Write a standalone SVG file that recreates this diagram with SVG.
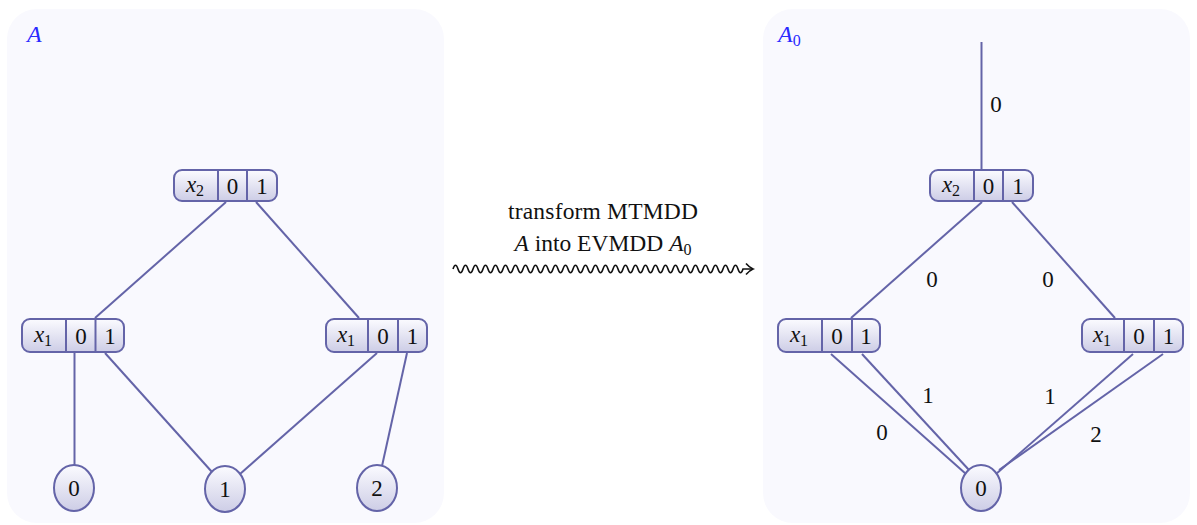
<svg xmlns="http://www.w3.org/2000/svg" width="1197" height="525" viewBox="0 0 1197 525">
  <defs>
    <linearGradient id="nodeFill" x1="0" y1="0" x2="0" y2="1">
      <stop offset="0" stop-color="#fbfbff"/>
      <stop offset="1" stop-color="#cdcde6"/>
    </linearGradient>
    <style>
      .panel { fill: #f9f9fe; stroke: none; }
      .box { fill: url(#nodeFill); stroke: #6464a8; stroke-width: 2; }
      .div { stroke: #6464a8; stroke-width: 2; }
      .edge { stroke: #6464a8; stroke-width: 2; fill: none; }
      .t { font-family: "Liberation Serif", "Times New Roman", serif; font-size: 23px; fill: #111; text-anchor: middle; }
      .big { font-size: 23.5px; }
      .it { font-style: italic; }
      .sub { font-size: 16px; }
      .title { font-family: "Liberation Serif", "Times New Roman", serif; font-size: 24px; font-style: italic; fill: #2a2aff; }
      .wave { stroke: #111; stroke-width: 1.6; fill: none; }
    </style>
  </defs>

  <!-- background panels -->
  <rect class="panel" x="7" y="9" width="437" height="514" rx="30"/>
  <rect class="panel" x="763" y="9" width="427" height="514" rx="30"/>
  <text class="title" x="27" y="42">A</text>
  <text class="title" x="778" y="42">A<tspan class="sub" font-style="normal" dy="4">0</tspan></text>

  <!-- connectors -->
  <g id="connectors">
    <!-- MTMDD A -->
    <line class="edge" x1="226" y1="202" x2="95" y2="318"/>
    <line class="edge" x1="256" y1="202" x2="359" y2="318"/>
    <line class="edge" x1="74.5" y1="353" x2="74.5" y2="466"/>
    <line class="edge" x1="105" y1="353" x2="212" y2="472"/>
    <line class="edge" x1="377" y1="353" x2="240" y2="474"/>
    <line class="edge" x1="407" y1="353" x2="382" y2="466"/>
    <!-- EVMDD A0 -->
    <line class="edge" x1="981.5" y1="42" x2="981.5" y2="170"/>
    <line class="edge" x1="982" y1="202" x2="851" y2="318"/>
    <line class="edge" x1="1012" y1="202" x2="1115" y2="318"/>
    <line class="edge" x1="831" y1="354" x2="966" y2="474"/>
    <line class="edge" x1="862" y1="354" x2="969" y2="470"/>
    <line class="edge" x1="1133" y1="354" x2="996" y2="474"/>
    <line class="edge" x1="1163" y1="354" x2="999" y2="470"/>
    <!-- edge values -->
    <text class="t" x="996" y="112">0</text>
    <text class="t" x="932" y="287">0</text>
    <text class="t" x="1048" y="287">0</text>
    <text class="t" x="928" y="403">1</text>
    <text class="t" x="1050" y="404">1</text>
    <text class="t" x="882" y="440">0</text>
    <text class="t" x="1096" y="442">2</text>
  </g>

  <!-- transformation arrow -->
  <g id="transform">
    <text class="t big" x="603" y="219" textLength="190" lengthAdjust="spacing">transform MTMDD</text>
    <text class="t big" x="603" y="251"><tspan class="it">A</tspan> into EVMDD <tspan class="it">A</tspan><tspan class="sub" dy="4">0</tspan></text>
    <path class="wave" d="M453,269 q2.5,-7.5 5,0 t5,0 t5,0 t5,0 t5,0 t5,0 t5,0 t5,0 t5,0 t5,0 t5,0 t5,0 t5,0 t5,0 t5,0 t5,0 t5,0 t5,0 t5,0 t5,0 t5,0 t5,0 t5,0 t5,0 t5,0 t5,0 t5,0 t5,0 t5,0 t5,0 t5,0 t5,0 t5,0 t5,0 t5,0 t5,0 t5,0 t5,0 t5,0 t5,0 t5,0 t5,0 t5,0 t5,0 t5,0 t5,0 t5,0 t5,0 t5,0 t5,0 t5,0 t5,0 t5,0 t5,0 t5,0 t5,0 t5,0 t5,0 l10,0"/>
    <path class="wave" d="M746,263.5 Q749.5,267.5 753,269 Q749.5,270.5 746,274.5"/>
  </g>

  <!-- MTMDD A nodes -->
  <g id="A-x2">
    <rect class="box" x="174" y="170" width="103" height="31" rx="8"/>
    <line class="div" x1="218" y1="170" x2="218" y2="201"/>
    <line class="div" x1="247" y1="170" x2="247" y2="201"/>
    <text class="t" x="195" y="192"><tspan class="it">x</tspan><tspan class="sub" dy="4">2</tspan></text>
    <text class="t" x="232.5" y="193.5">0</text>
    <text class="t" x="262" y="193.5">1</text>
  </g>
  <g id="A-x1-left">
    <rect class="box" x="22" y="319" width="102" height="33" rx="8"/>
    <line class="div" x1="66" y1="319" x2="66" y2="352"/>
    <line class="div" x1="95.5" y1="319" x2="95.5" y2="352"/>
    <text class="t" x="43" y="342"><tspan class="it">x</tspan><tspan class="sub" dy="4">1</tspan></text>
    <text class="t" x="81" y="343.5">0</text>
    <text class="t" x="110" y="343.5">1</text>
  </g>
  <g id="A-x1-right">
    <rect class="box" x="326" y="319" width="101" height="33" rx="8"/>
    <line class="div" x1="368" y1="319" x2="368" y2="352"/>
    <line class="div" x1="398" y1="319" x2="398" y2="352"/>
    <text class="t" x="346" y="342"><tspan class="it">x</tspan><tspan class="sub" dy="4">1</tspan></text>
    <text class="t" x="383" y="343.5">0</text>
    <text class="t" x="412.5" y="343.5">1</text>
  </g>
  <g id="A-leaf-0">
    <ellipse class="box" cx="74" cy="488" rx="20" ry="23"/>
    <text class="t" x="74" y="496">0</text>
  </g>
  <g id="A-leaf-1">
    <ellipse class="box" cx="225" cy="489" rx="20" ry="23"/>
    <text class="t" x="225" y="497">1</text>
  </g>
  <g id="A-leaf-2">
    <ellipse class="box" cx="377" cy="488" rx="20" ry="23"/>
    <text class="t" x="377" y="496">2</text>
  </g>

  <!-- EVMDD A0 nodes -->
  <g id="A0-x2">
    <rect class="box" x="930" y="170" width="103" height="31" rx="8"/>
    <line class="div" x1="974" y1="170" x2="974" y2="201"/>
    <line class="div" x1="1003" y1="170" x2="1003" y2="201"/>
    <text class="t" x="951" y="192"><tspan class="it">x</tspan><tspan class="sub" dy="4">2</tspan></text>
    <text class="t" x="988.5" y="193.5">0</text>
    <text class="t" x="1018" y="193.5">1</text>
  </g>
  <g id="A0-x1-left">
    <rect class="box" x="778" y="319" width="102" height="33" rx="8"/>
    <line class="div" x1="822" y1="319" x2="822" y2="352"/>
    <line class="div" x1="852" y1="319" x2="852" y2="352"/>
    <text class="t" x="799" y="342"><tspan class="it">x</tspan><tspan class="sub" dy="4">1</tspan></text>
    <text class="t" x="837" y="343.5">0</text>
    <text class="t" x="866" y="343.5">1</text>
  </g>
  <g id="A0-x1-right">
    <rect class="box" x="1082" y="319" width="101" height="33" rx="8"/>
    <line class="div" x1="1124" y1="319" x2="1124" y2="352"/>
    <line class="div" x1="1154" y1="319" x2="1154" y2="352"/>
    <text class="t" x="1102" y="342"><tspan class="it">x</tspan><tspan class="sub" dy="4">1</tspan></text>
    <text class="t" x="1139" y="343.5">0</text>
    <text class="t" x="1168.5" y="343.5">1</text>
  </g>
  <g id="A0-leaf-0">
    <ellipse class="box" cx="981" cy="488" rx="20" ry="23"/>
    <text class="t" x="981" y="496">0</text>
  </g>
</svg>
